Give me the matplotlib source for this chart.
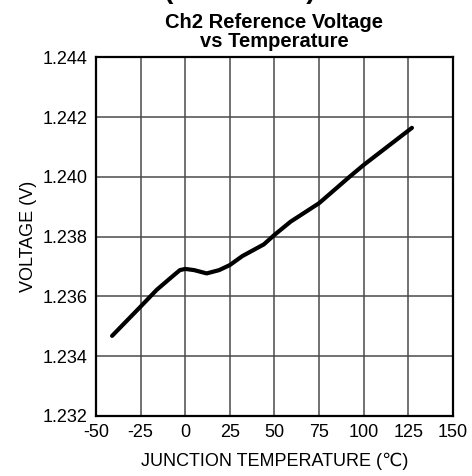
import numpy as np
import matplotlib
matplotlib.use("Agg")
import matplotlib.pyplot as plt

plt.rcParams['font.family'] = ['Liberation Sans', 'DejaVu Sans']
plt.rcParams['axes.unicode_minus'] = False

# curve
temp = [-41, -25, -16, -7, -3, 0, 5, 12, 19, 25, 32, 44, 50, 59, 75, 92, 100, 127]
volts = [1.23468, 1.23566, 1.23622, 1.23668, 1.23688, 1.23692, 1.23688, 1.23677,
         1.23688, 1.23705, 1.23735, 1.23774, 1.23806, 1.23850, 1.23912, 1.24000,
         1.24040, 1.24164]

xticks = [-50, -25, 0, 25, 50, 75, 100, 125, 150]
yticks = [1.232, 1.234, 1.236, 1.238, 1.240, 1.242, 1.244]

fig = plt.figure(figsize=(4.72, 4.76), dpi=100)
ax = fig.add_axes([0.2034, 0.1261, 0.7563, 0.7535])

ax.plot(temp, volts, color='black', linewidth=3.0, solid_capstyle='round',
        solid_joinstyle='round', zorder=3)

ax.set_xlim(-50, 150)
ax.set_ylim(1.232, 1.244)
ax.set_xticks(xticks)
ax.set_yticks(yticks)
ax.set_yticklabels(["%.3f" % v for v in yticks])
ax.tick_params(length=0, labelsize=13, pad=6)
ax.grid(True, color='#4a4a4a', linewidth=1.1)
for s in ax.spines.values():
    s.set_linewidth(1.6)
    s.set_zorder(4)

ax.set_xlabel("JUNCTION TEMPERATURE (\u2103)", fontsize=13, labelpad=8)
ax.set_ylabel("VOLTAGE (V)", fontsize=13, labelpad=4)
ax.set_title("Ch2 Reference Voltage\nvs Temperature", fontsize=14.5,
             fontweight='bold', linespacing=1.0, pad=7.5)

# page heading clipped off the top of the crop
fig.text(316 / 472, 1 + 1.5 / 476, "ICS (continued)", ha='right', va='baseline',
         fontsize=20, fontweight='bold')

fig.savefig("out.png", dpi=100)
